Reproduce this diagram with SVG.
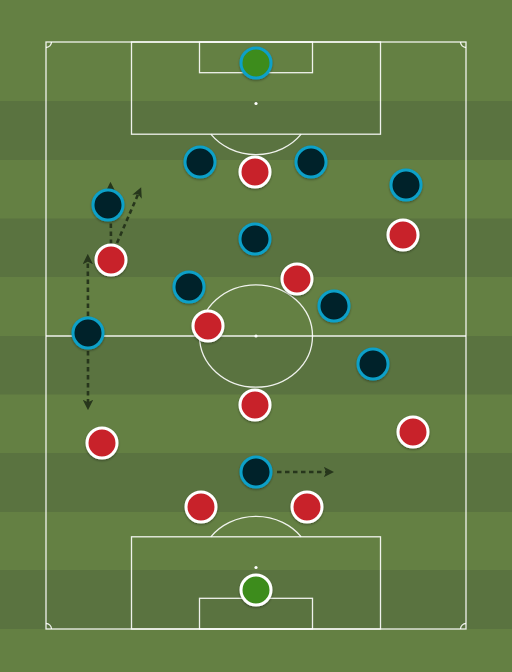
<svg xmlns="http://www.w3.org/2000/svg" width="512" height="672" viewBox="0 0 512 672">
<defs>
<style>
.ln{fill:none;stroke:#ffffff;stroke-width:1.3;stroke-opacity:0.9}
.mv{fill:none;stroke:#27361c;stroke-width:2.6;stroke-dasharray:4.5 3.5;marker-end:url(#ah)}
.red{fill:#c8232c;stroke:#ffffff;stroke-width:3}
.blu{fill:#00222b;stroke:#0aa0c8;stroke-width:3}
.gkt{fill:#3c8c1a;stroke:#0aa0c8;stroke-width:3}
.gkb{fill:#3c8c1a;stroke:#ffffff;stroke-width:3}
.pl{filter:url(#sh)}
</style>
<marker id="ah" viewBox="0 0 10 10" refX="6" refY="5" markerWidth="4" markerHeight="4" orient="auto" markerUnits="strokeWidth">
<path d="M0,0 L10,5 L0,10 L2.5,5 z" fill="#27361c"/>
</marker>
<filter id="sh" x="-30%" y="-30%" width="160%" height="160%">
<feDropShadow dx="0" dy="1.2" stdDeviation="1" flood-color="#000" flood-opacity="0.35"/>
</filter>
</defs>
<g id="pitch">
<rect x="0" y="0" width="512" height="672" fill="#648043"/>
<rect x="0" y="101" width="512" height="59" fill="#5a7340"/>
<rect x="0" y="218.5" width="512" height="58.5" fill="#5a7340"/>
<rect x="0" y="336" width="512" height="58.5" fill="#5a7340"/>
<rect x="0" y="453" width="512" height="59" fill="#5a7340"/>
<rect x="0" y="570" width="512" height="59" fill="#5a7340"/>
<rect class="ln" x="46" y="42" width="420" height="587"/>
<line class="ln" x1="46" y1="336" x2="466" y2="336"/>
<ellipse class="ln" cx="256" cy="336" rx="56.5" ry="51.2"/>
<circle cx="256" cy="336" r="1.6" fill="#fff"/>
<rect class="ln" x="131.5" y="42" width="249" height="92.2"/>
<rect class="ln" x="199.5" y="42" width="113" height="30.7"/>
<circle cx="256" cy="103.5" r="1.6" fill="#fff"/>
<path class="ln" d="M210.8,134.2 A56.5,51.2 0 0 0 301.2,134.2"/>
<rect class="ln" x="131.5" y="536.8" width="249" height="92.2"/>
<rect class="ln" x="199.5" y="598.3" width="113" height="30.7"/>
<circle cx="256" cy="567.5" r="1.6" fill="#fff"/>
<path class="ln" d="M210.8,536.8 A56.5,51.2 0 0 1 301.2,536.8"/>
<path class="ln" d="M46,47.5 A5.5,5.5 0 0 0 51.5,42"/>
<path class="ln" d="M460.5,42 A5.5,5.5 0 0 0 466,47.5"/>
<path class="ln" d="M46,623.5 A5.5,5.5 0 0 1 51.5,629"/>
<path class="ln" d="M460.5,629 A5.5,5.5 0 0 1 466,623.5"/>
</g>
<g id="connectors">
<path class="mv" d="M111,244 L110.5,186"/>
<path class="mv" d="M117,243 L139.5,191"/>
<path class="mv" d="M88,316 L87.8,258"/>
<path class="mv" d="M88,351 L88,406"/>
<path class="mv" d="M277,472 L330,472"/>
</g>
<g id="team-dark">
<g id="d-gk" class="pl"><circle class="gkt" cx="256" cy="63" r="15"/></g>
<g id="d1" class="pl"><circle class="blu" cx="200" cy="162" r="15"/></g>
<g id="d2" class="pl"><circle class="blu" cx="311" cy="162" r="15"/></g>
<g id="d3" class="pl"><circle class="blu" cx="406" cy="185" r="15"/></g>
<g id="d4" class="pl"><circle class="blu" cx="108" cy="205" r="15"/></g>
<g id="d5" class="pl"><circle class="blu" cx="255" cy="239" r="15"/></g>
<g id="d6" class="pl"><circle class="blu" cx="189" cy="287" r="15"/></g>
<g id="d7" class="pl"><circle class="blu" cx="334" cy="306" r="15"/></g>
<g id="d8" class="pl"><circle class="blu" cx="88" cy="333" r="15"/></g>
<g id="d9" class="pl"><circle class="blu" cx="373" cy="364" r="15"/></g>
<g id="d10" class="pl"><circle class="blu" cx="256" cy="472" r="15"/></g>
</g>
<g id="team-red">
<g id="r1" class="pl"><circle class="red" cx="255" cy="172" r="15"/></g>
<g id="r2" class="pl"><circle class="red" cx="403" cy="235" r="15"/></g>
<g id="r3" class="pl"><circle class="red" cx="111" cy="260" r="15"/></g>
<g id="r4" class="pl"><circle class="red" cx="297" cy="279" r="15"/></g>
<g id="r5" class="pl"><circle class="red" cx="208" cy="326" r="15"/></g>
<g id="r6" class="pl"><circle class="red" cx="255" cy="405" r="15"/></g>
<g id="r7" class="pl"><circle class="red" cx="102" cy="443" r="15"/></g>
<g id="r8" class="pl"><circle class="red" cx="413" cy="432" r="15"/></g>
<g id="r9" class="pl"><circle class="red" cx="201" cy="507" r="15"/></g>
<g id="r10" class="pl"><circle class="red" cx="307" cy="507" r="15"/></g>
<g id="r-gk" class="pl"><circle class="gkb" cx="256" cy="590" r="15"/></g>
</g>
</svg>
